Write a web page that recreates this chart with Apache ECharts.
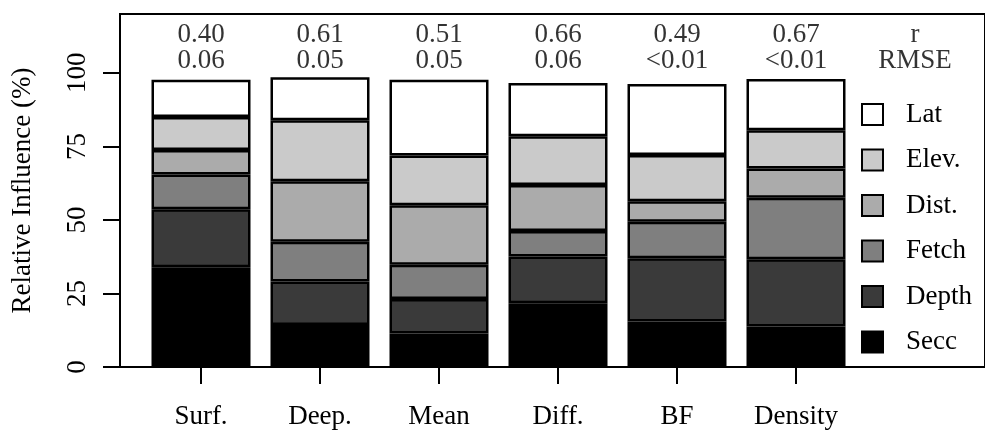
<!DOCTYPE html>
<html><head><meta charset="utf-8">
<script src="https://cdn.jsdelivr.net/npm/echarts@6/dist/echarts.min.js"></script>
<style>html,body{margin:0;padding:0;background:#fff}#c{width:985px;height:430px}</style>
</head><body><div id="c"></div>
<script>
var categories = ['Surf.', 'Deep.', 'Mean', 'Diff.', 'BF', 'Density', ''];
var secc  = [33.7, 14.0, 11.1, 21.4, 15.2, 13.5];
var depth = [19.7, 14.8, 11.7, 15.9, 21.5, 22.9];
var fetch = [11.9, 13.6, 11.7,  8.7, 12.5, 21.0];
var dist  = [ 8.3, 20.6, 20.3, 15.7,  7.0,  9.9];
var elev  = [11.3, 20.8, 17.0, 16.6, 15.7, 13.1];
var lat   = [12.7, 14.6, 25.8, 18.2, 24.2, 17.4];
var rValues    = ['0.40', '0.61', '0.51', '0.66', '0.49', '0.67', 'r'];
var rmseValues = ['0.06', '0.05', '0.05', '0.06', '<0.01', '<0.01', 'RMSE'];
var yTicks = [0, 25, 50, 75, 100];
var seriesNames = ['Secc', 'Depth', 'Fetch', 'Dist.', 'Elev.', 'Lat'];
var seriesData = [secc, depth, fetch, dist, elev, lat];
var colors = ['#000000', '#3a3a3a', '#7f7f7f', '#ababab', '#cacaca', '#ffffff'];

var FONT = 'Liberation Serif';
var FS = 27;
var TXT = '#000';
var chart = echarts.init(document.getElementById('c'), null, {renderer: 'canvas'});

var series = seriesNames.map(function (n, i) {
  return {
    name: n, type: 'bar', stack: 'all', xAxisIndex: 1, yAxisIndex: 1,
    barWidth: 99, data: seriesData[i],
    itemStyle: {color: colors[i], borderColor: '#000', borderWidth: 2.5},
    emphasis: {disabled: true}, animation: false
  };
});
series.push({
  type: 'scatter', xAxisIndex: 1, yAxisIndex: 1, symbolSize: 0, animation: false,
  data: categories.map(function (c, i) { return [i, 108.6]; }),
  label: {
    show: true, position: 'inside', fontFamily: FONT, fontSize: FS, color: TXT, lineHeight: 26,
    formatter: function (p) { return rValues[p.dataIndex] + '\n' + rmseValues[p.dataIndex]; }
  }
});

chart.setOption({
  backgroundColor: '#fff',
  animation: false,
  grid: [
    {left: 120, top: 14, width: 880, height: 353, show: true, borderColor: '#000', borderWidth: 2, backgroundColor: 'transparent'},
    {left: 141.5, top: 14, width: 833, height: 353}
  ],
  legend: {
    orient: 'vertical', left: 856, top: 96, itemWidth: 21, itemHeight: 21, itemGap: 18.5,
    icon: 'rect', data: ['Lat', 'Elev.', 'Dist.', 'Fetch', 'Depth', 'Secc'],
    textStyle: {fontFamily: FONT, fontSize: FS, color: TXT, padding: [0, 0, 0, 18]},
    selectedMode: false
  },
  xAxis: [
    {gridIndex: 0, type: 'value', min: 0, max: 1, show: false},
    {gridIndex: 1, type: 'category', data: categories,
      axisLine: {show: false},
      axisTick: {show: true, alignWithLabel: true, length: 18, lineStyle: {color: '#000', width: 2},
        interval: function (i, v) { return v !== ''; }},
      axisLabel: {fontFamily: FONT, fontSize: FS, color: TXT, margin: 37, interval: 0}
    }
  ],
  yAxis: [
    {gridIndex: 0, type: 'value', min: 0, max: 120,
      name: 'Relative Influence (%)', nameLocation: 'middle', nameGap: 84,
      nameTextStyle: {fontFamily: FONT, fontSize: FS, color: TXT},
      axisLine: {show: false}, splitLine: {show: false},
      axisTick: {show: true, length: 17, lineStyle: {color: '#000', width: 2}, customValues: yTicks},
      axisLabel: {fontFamily: FONT, fontSize: FS, color: TXT, rotate: 90, margin: 29, customValues: yTicks}
    },
    {gridIndex: 1, type: 'value', min: 0, max: 120, show: false}
  ],
  series: series
});
</script></body></html>
